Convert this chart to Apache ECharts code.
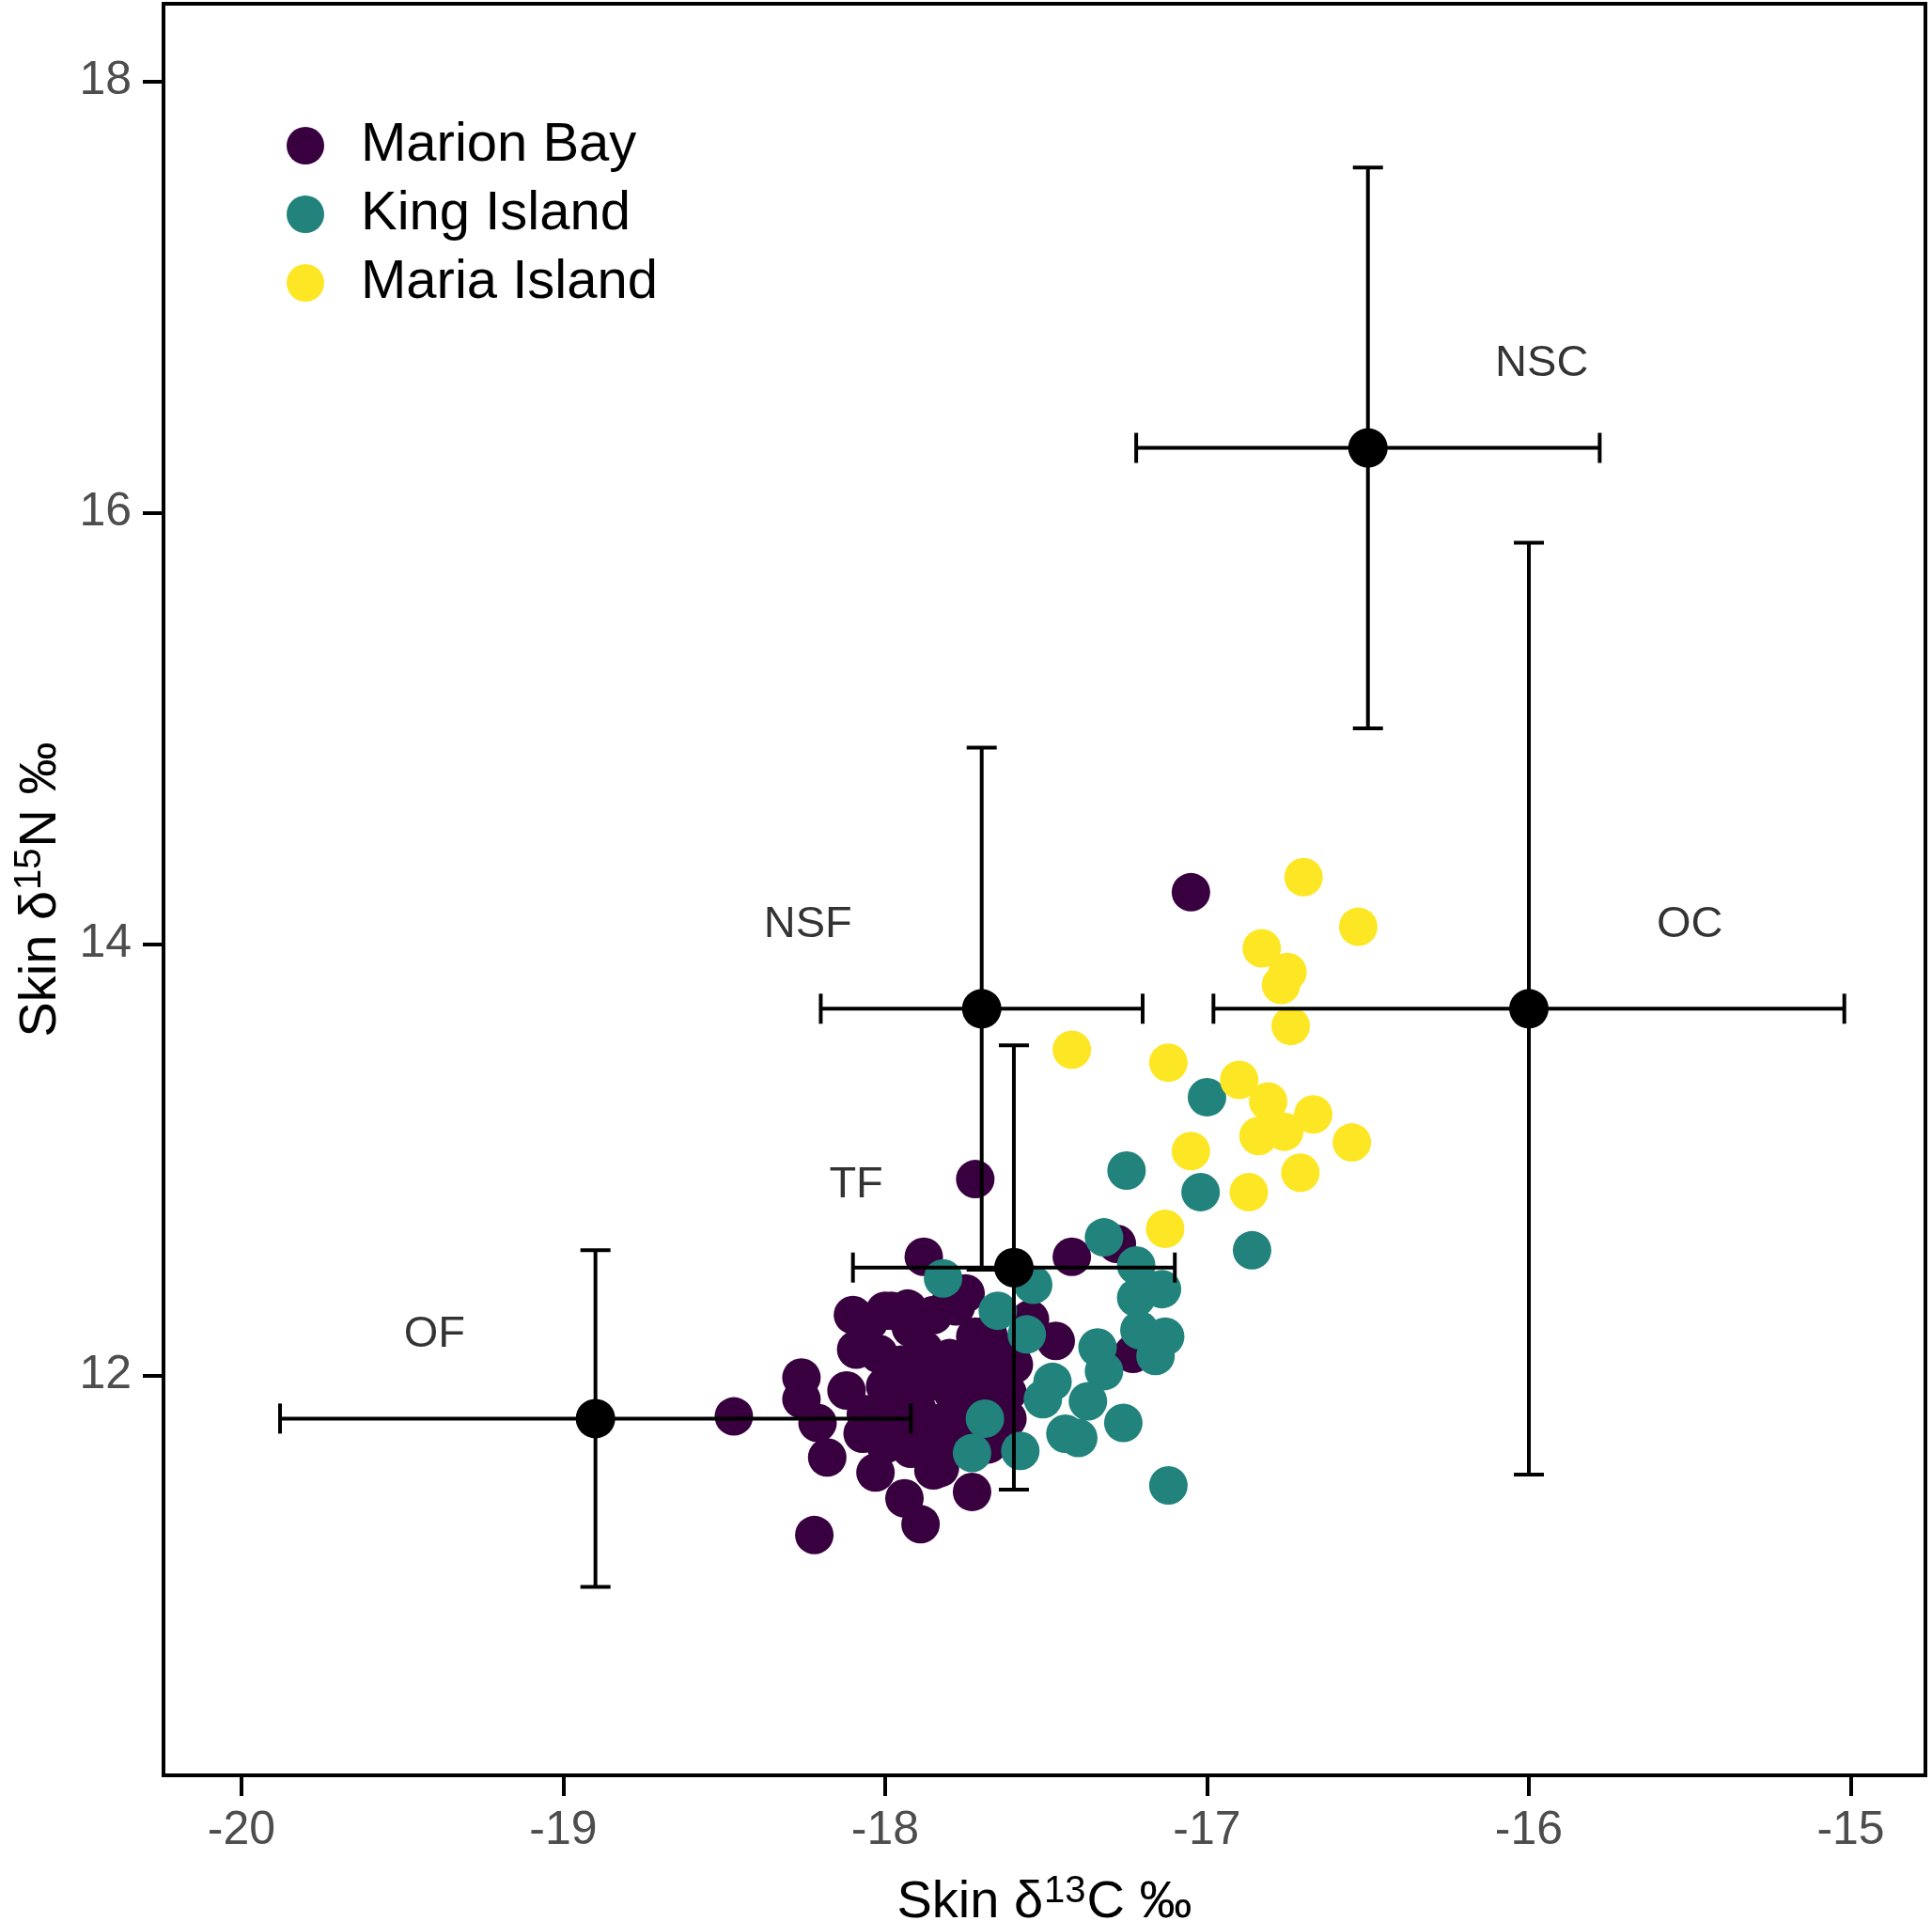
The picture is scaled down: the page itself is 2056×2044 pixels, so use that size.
<!DOCTYPE html>
<html>
<head>
<meta charset="utf-8">
<script src="https://cdn.jsdelivr.net/npm/echarts@6/dist/echarts.min.js"></script>
<style>
  html, body { margin: 0; padding: 0; background: #fff; }
  #chart { width: 2056px; height: 2044px; }
</style>
</head>
<body>
<div id="chart"></div>
<script>
// tick labels
var xTicks = [-20, -19, -18, -17, -16, -15];
var yTicks = [12, 14, 16, 18];

// skin isotope values, [d13C, d15N]
var marionBay = [
  [-17.05, 14.24], [-17.72, 12.91], [-17.88, 12.55], [-17.42, 12.55], [-17.28, 12.61],
  [-17.23, 12.10], [-17.47, 12.16], [-17.55, 12.26], [-17.75, 12.38], [-17.68, 12.19],
  [-17.68, 11.68], [-17.73, 11.46], [-17.83, 11.57], [-18.10, 12.28], [-18.09, 12.12],
  [-17.93, 12.31], [-18.26, 11.99], [-18.47, 11.81], [-18.26, 11.89], [-18.21, 11.78],
  [-18.18, 11.62], [-18.07, 11.73], [-18.03, 11.55], [-17.94, 11.43], [-17.89, 11.31],
  [-18.22, 11.26], [-17.85, 11.56], [-17.93, 11.73], [-18.12, 11.93], [-18.00, 12.30],
  [-17.80, 12.33],
  [-18.05, 12.25], [-17.98, 12.30], [-17.92, 12.22], [-17.85, 12.28], [-17.78, 12.32],
  [-17.72, 12.18], [-17.65, 12.12], [-17.60, 12.05], [-18.02, 12.10], [-17.95, 12.05],
  [-17.88, 12.12], [-17.80, 12.08], [-17.74, 12.02], [-17.68, 11.98], [-18.00, 11.95],
  [-17.93, 11.90], [-17.86, 11.97], [-17.79, 11.92], [-17.70, 11.88], [-17.62, 11.92],
  [-18.06, 11.82], [-17.97, 11.80], [-17.90, 11.84], [-17.83, 11.78], [-17.76, 11.82],
  [-18.00, 11.68], [-17.92, 11.66], [-17.85, 11.70], [-17.78, 11.72], [-17.62, 11.80]
];
var kingIsland = [
  [-17.00, 13.29], [-17.25, 12.95], [-17.02, 12.85], [-16.86, 12.58], [-17.32, 12.64],
  [-17.22, 12.51], [-17.14, 12.40], [-17.22, 12.36], [-17.54, 12.42], [-17.65, 12.30],
  [-17.56, 12.19], [-17.13, 12.18], [-17.21, 12.21], [-17.16, 12.09], [-17.34, 12.13],
  [-17.32, 12.02], [-17.48, 11.97], [-17.51, 11.89], [-17.37, 11.88], [-17.44, 11.73],
  [-17.40, 11.71], [-17.26, 11.78], [-17.58, 11.65], [-17.69, 11.80], [-17.73, 11.64],
  [-17.82, 12.45], [-17.12, 11.49]
];
var mariaIsland = [
  [-16.70, 14.31], [-16.53, 14.08], [-16.83, 13.98], [-16.75, 13.87], [-16.77, 13.81],
  [-16.74, 13.62], [-17.42, 13.51], [-17.12, 13.45], [-16.90, 13.37], [-16.81, 13.27],
  [-16.67, 13.21], [-16.84, 13.11], [-16.76, 13.13], [-16.55, 13.08], [-17.05, 13.04],
  [-16.71, 12.94], [-16.87, 12.85], [-17.13, 12.68]
];

// prey source means and spread
var sourceNames = ['NSC', 'OC', 'NSF', 'TF', 'OF'];
var sourceX = [-16.5, -16.0, -17.7, -17.6, -18.9];
var sourceY = [16.3, 13.7, 13.7, 12.5, 11.8];
var sourceXErr = [0.72, 0.98, 0.5, 0.5, 0.98];
var sourceYErr = [1.3, 2.16, 1.21, 1.03, 0.78];
var labelX = [-15.96, -15.5, -18.24, -18.09, -19.4];
var labelY = [16.69, 14.09, 14.09, 12.88, 12.19];

var font = 'Liberation Sans, Arial, sans-serif';
var colors = ['#38003f', '#21837b', '#fde725'];

var errData = sourceX.map(function (x, i) {
  return [x, sourceY[i], sourceXErr[i], sourceYErr[i]];
});
var centreData = sourceX.map(function (x, i) { return [x, sourceY[i]]; });
var labelData = sourceNames.map(function (n, i) {
  return { name: n, value: [labelX[i], labelY[i]] };
});

var titleRich = {
  a: { fontFamily: font, fontSize: 56, color: '#000', lineHeight: 64 },
  s: { fontFamily: font, fontSize: 40, color: '#000', lineHeight: 2, verticalAlign: 'top', padding: [0, 1, 0, 1] }
};

var myChart = echarts.init(document.getElementById('chart'));
var option = {
  animation: false,
  backgroundColor: '#fff',
  grid: {
    left: 174, right: 7, top: 4, bottom: 155,
    containLabel: false,
    outerBoundsMode: 'none',
    show: true, borderColor: '#000', borderWidth: 4
  },
  legend: {
    orient: 'vertical',
    left: 305, top: 126,
    padding: 0,
    itemGap: 15,
    itemWidth: 40, itemHeight: 40,
    icon: 'circle',
    data: ['Marion Bay', 'King Island', 'Maria Island'],
    textStyle: { fontFamily: font, fontSize: 58, color: '#000', lineHeight: 40, padding: [0, 0, 0, 34] }
  },
  xAxis: {
    type: 'value',
    min: -20.242, max: -14.768,
    name: '{a|Skin δ}{s|13}{a|C ‰}',
    nameLocation: 'middle',
    nameGap: 104,
    nameTextStyle: { rich: titleRich },
    splitLine: { show: false },
    axisLine: { show: true, onZero: false, lineStyle: { color: '#000', width: 4 } },
    axisTick: { show: true, length: 22, customValues: xTicks, lineStyle: { color: '#000', width: 4 } },
    axisLabel: { customValues: xTicks, fontFamily: font, fontSize: 50, color: '#4d4d4d', margin: 34 }
  },
  yAxis: {
    type: 'value',
    min: 10.146, max: 18.359,
    name: '{a|Skin δ}{s|15}{a|N ‰}',
    nameLocation: 'middle',
    nameRotate: 90,
    nameGap: 98,
    nameTextStyle: { rich: titleRich },
    splitLine: { show: false },
    axisLine: { show: true, onZero: false, lineStyle: { color: '#000', width: 4 } },
    axisTick: { show: true, length: 22, customValues: yTicks, lineStyle: { color: '#000', width: 4 } },
    axisLabel: { customValues: yTicks, fontFamily: font, fontSize: 50, color: '#4d4d4d', margin: 34 }
  },
  series: [
    {
      name: 'Marion Bay', type: 'scatter', data: marionBay, symbolSize: 41, z: 2,
      itemStyle: { color: colors[0], opacity: 1 }
    },
    {
      name: 'King Island', type: 'scatter', data: kingIsland, symbolSize: 41, z: 2,
      itemStyle: { color: colors[1], opacity: 1 }
    },
    {
      name: 'Maria Island', type: 'scatter', data: mariaIsland, symbolSize: 41, z: 2,
      itemStyle: { color: colors[2], opacity: 1 }
    },
    {
      type: 'custom', z: 3, data: errData,
      encode: { x: 0, y: 1 },
      renderItem: function (params, api) {
        var cx = api.value(0), cy = api.value(1), ex = api.value(2), ey = api.value(3);
        var l = api.coord([cx - ex, cy]), r = api.coord([cx + ex, cy]);
        var t = api.coord([cx, cy + ey]), b = api.coord([cx, cy - ey]);
        var c = 16;
        var st = { stroke: '#000', lineWidth: 4 };
        function seg(x1, y1, x2, y2) {
          return { type: 'line', shape: { x1: x1, y1: y1, x2: x2, y2: y2 }, style: st };
        }
        return {
          type: 'group',
          children: [
            seg(l[0], l[1], r[0], r[1]),
            seg(t[0], t[1], b[0], b[1]),
            seg(l[0], l[1] - c, l[0], l[1] + c),
            seg(r[0], r[1] - c, r[0], r[1] + c),
            seg(t[0] - c, t[1], t[0] + c, t[1]),
            seg(b[0] - c, b[1], b[0] + c, b[1])
          ]
        };
      }
    },
    {
      type: 'scatter', data: centreData, symbolSize: 42, z: 4,
      itemStyle: { color: '#000', opacity: 1 }
    },
    {
      type: 'scatter', data: labelData, symbolSize: 0, z: 5,
      label: {
        show: true, position: 'inside', formatter: '{b}',
        fontFamily: font, fontSize: 47, color: '#000'
      }
    }
  ]
};
myChart.setOption(option);
</script>
</body>
</html>
